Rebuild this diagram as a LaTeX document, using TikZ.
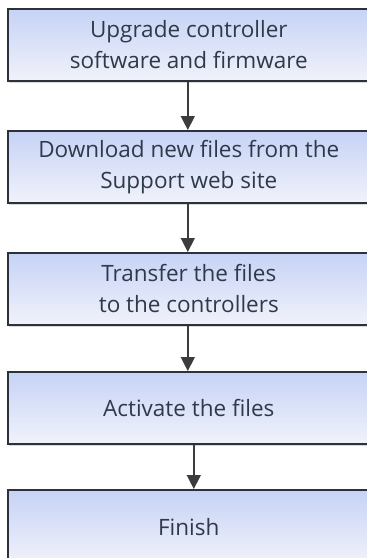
\documentclass[tikz,border=0pt]{standalone}
\usepackage{fontspec}
\setmainfont{Open Sans}
\usetikzlibrary{arrows.meta,shadows,positioning}
\definecolor{boxtop}{HTML}{C6D3F6}
\definecolor{boxbot}{HTML}{F1F2FA}
\definecolor{edge}{HTML}{2C323C}
\definecolor{txt}{HTML}{2E3A4A}
\definecolor{arr}{HTML}{3C3C3C}
\tikzset{
  x=1pt,y=-1pt,
  stepbox/.style={draw=edge, line width=1.6pt, top color=boxtop, bottom color=boxbot,
    minimum width=362pt, minimum height=72pt, inner sep=0pt,
    align=center, font=\fontsize{22.5}{31}\selectfont, text=txt,
    drop shadow={shadow xshift=1pt, shadow yshift=-2.5pt, fill=black!25, opacity=0.6}},
  flow/.style={draw=arr, line width=1.4pt, -{Triangle[length=14pt,width=14pt]}}
}
\begin{document}
\begin{tikzpicture}
\useasboundingbox (0,0) rectangle (367,558);
\clip (0,0) rectangle (367,558);
\node[stepbox, anchor=north west] (b1) at (7,8) {Upgrade controller\\software and firmware};
\node[stepbox, anchor=north west] (b2) at (7,130) {Download new files from the\\Support web site};
\node[stepbox, anchor=north west] (b3) at (7,252) {Transfer the files\\to the controllers};
\node[stepbox, anchor=north west] (b4) at (7,371) {Activate the files};
\node[stepbox, anchor=north west, minimum height=74pt] (b5) at (7,489) {Finish};
\draw[flow] ([xshift=-1pt]b1.south) -- ([xshift=-1pt]b2.north);
\draw[flow] ([xshift=-1pt]b2.south) -- ([xshift=-1pt]b3.north);
\draw[flow] ([xshift=-1pt]b3.south) -- ([xshift=-1pt]b4.north);
\draw[flow] ([xshift=5pt]b4.south) -- ([xshift=5pt]b5.north);
\end{tikzpicture}
\end{document}
